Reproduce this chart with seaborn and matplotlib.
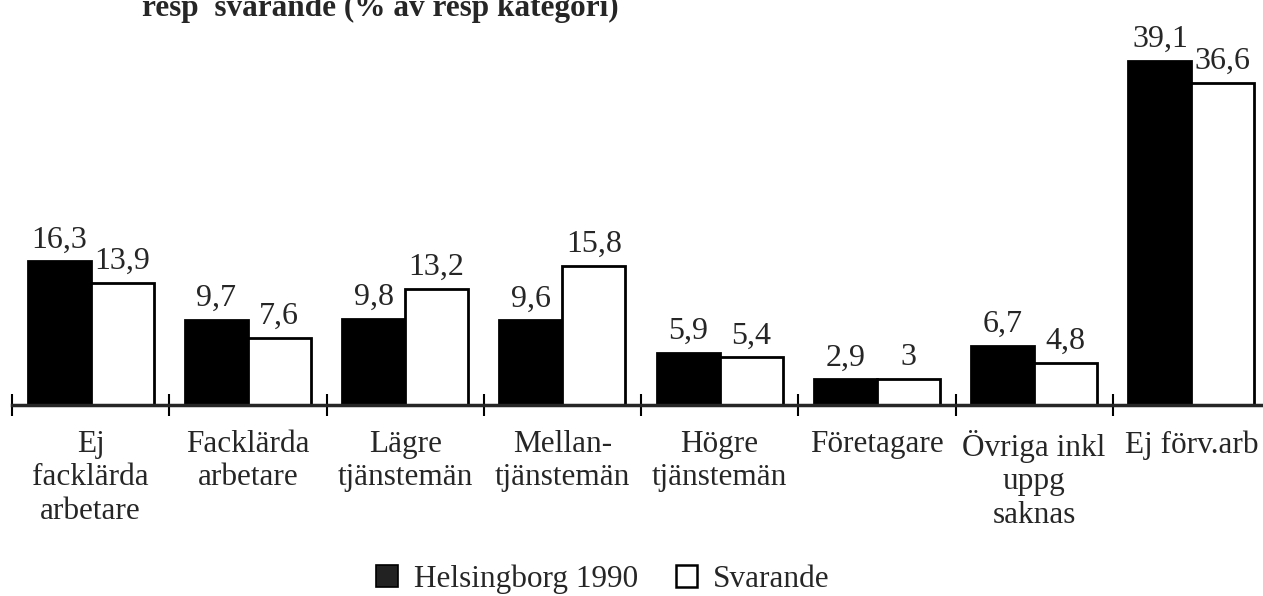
import pandas as pd
import matplotlib
matplotlib.use("Agg")
import matplotlib.pyplot as plt
import seaborn as sns
from matplotlib.patches import Patch

categories = ["Ej\nfacklärda\narbetare", "Facklärda\narbetare", "Lägre\ntjänstemän",
              "Mellan-\ntjänstemän", "Högre\ntjänstemän", "Företagare",
              "Övriga inkl\nuppg\nsaknas", "Ej förv.arb"]
helsingborg = [16.3, 9.7, 9.8, 9.6, 5.9, 2.9, 6.7, 39.1]
svarande = [13.9, 7.6, 13.2, 15.8, 5.4, 3.0, 4.8, 36.6]
series = ["Helsingborg 1990", "Svarande"]
title = "resp  svarande (% av resp kategori)"

df = pd.DataFrame({
    "kategori": categories * 2,
    "andel": helsingborg + svarande,
    "serie": [series[0]] * len(categories) + [series[1]] * len(categories),
})

sns.set_style("white")
plt.rcParams["font.family"] = ["Liberation Serif", "DejaVu Serif"]

fig = plt.figure(figsize=(12.63, 5.96), dpi=100)
ax = fig.add_axes([12 / 1263, 191 / 596, 1258 / 1263, 405 / 596])

sns.barplot(data=df, x="kategori", y="andel", hue="serie", order=categories,
            hue_order=series, palette=["black", "white"], width=0.8,
            edgecolor="black", linewidth=2, legend=False, ax=ax)

for cont in ax.containers:
    vals = [b.get_height() for b in cont]
    ax.bar_label(cont, labels=[f"{v:g}".replace(".", ",") for v in vals],
                 padding=5, fontsize=23)

ax.set_xlim(-0.5, 7.5)
ax.set_ylim(0, 46)
ax.set_xlabel("")
ax.set_ylabel("")
ax.set_yticks([])
for s in ["top", "right", "left"]:
    ax.spines[s].set_visible(False)
ax.spines["bottom"].set_linewidth(2.5)

ax.set_xticks(range(len(categories)))
ax.set_xticklabels(categories, fontsize=22.5, linespacing=1.2, va="top")
ax.tick_params(axis="x", which="major", bottom=True, length=0, pad=18)
ax.set_xticks([i - 0.5 for i in range(len(categories))], minor=True)
ax.tick_params(axis="x", which="minor", bottom=True, direction="inout",
               length=16, width=1.5, color="black")

handles = [Patch(facecolor="#222222", edgecolor="black", linewidth=1.2),
           Patch(facecolor="white", edgecolor="black", linewidth=1.8)]
fig.legend(handles, series, loc="center", bbox_to_anchor=(603 / 1263, 1 - 579 / 596),
           ncol=2, frameon=False, fontsize=22.5, handlelength=0.7, handleheight=0.7,
           handletextpad=0.5, columnspacing=1.2, borderpad=0)

# titeln är avskuren upptill i originalet
fig.text(142 / 1263, 1 - 16 / 596, title, fontsize=22.5, fontweight="bold",
         va="baseline", ha="left")

fig.savefig("out.png", dpi=100)
